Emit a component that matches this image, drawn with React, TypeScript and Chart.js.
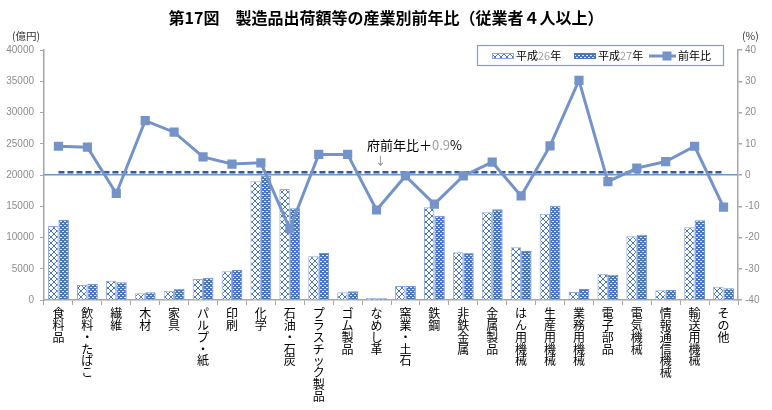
import React, { useEffect, useRef } from 'react';
import { Chart, registerables } from 'chart.js';
Chart.register(...registerables);

const categories = ['食料品', '飲料・たばこ', '繊維', '木材', '家具', 'パルプ・紙', '印刷', '化学', '石油・石炭', 'プラスチック製品', 'ゴム製品', 'なめし革', '窯業・土石', '鉄鋼', '非鉄金属', '金属製品', 'はん用機械', '生産用機械', '業務用機械', '電子部品', '電気機械', '情報通信機械', '輸送用機械', 'その他'];
const h26 = [11840, 2400, 3090, 1070, 1490, 3360, 4590, 18990, 17760, 6990, 1230, 320, 2240, 14830, 7630, 14030, 8430, 13810, 1280, 4210, 10190, 1550, 11630, 2130];
const h27 = [12800, 2610, 2830, 1230, 1810, 3570, 4800, 19900, 14670, 7520, 1390, 270, 2240, 13490, 7550, 14510, 7840, 15090, 1760, 4050, 10450, 1600, 12750, 1870];
const yoy = [9.2, 8.9, -5.9, 17.4, 13.7, 5.8, 3.5, 3.9, -17.2, 6.6, 6.6, -11.2, -0.3, -9.3, -0.3, 4.1, -6.7, 9.3, 30.3, -2.1, 2.2, 4.3, 9.2, -10.3];
const prefAvg = 0.9;
const leftMin = 0;
const leftMax = 40000;
const leftStep = 5000;
const rightMin = -40;
const rightMax = 40;
const rightStep = 10;

const seriesNames = ['平成26年', '平成27年', '前年比'];
const titleText = '第17図　製造品出荷額等の産業別前年比（従業者４人以上）';

const LINE = '#7393C9';
const DASH = '#2F5C9F';
const BLUE = '#4A76BB';
const AXIS = '#A6A6A6';
const JP = '"Noto Sans CJK JP", "Noto Sans", sans-serif';

function hatchPattern(): CanvasPattern | string {
  const c = document.createElement('canvas');
  c.width = 6; c.height = 6;
  const g = c.getContext('2d');
  if (!g) return '#fff';
  g.fillStyle = '#ffffff';
  g.fillRect(0, 0, 6, 6);
  g.strokeStyle = BLUE;
  g.lineWidth = 1;
  g.beginPath();
  g.moveTo(0, 0); g.lineTo(6, 6);
  g.moveTo(6, 0); g.lineTo(0, 6);
  g.stroke();
  return g.createPattern(c, 'repeat') || '#fff';
}

function dotPattern(): CanvasPattern | string {
  const c = document.createElement('canvas');
  c.width = 4; c.height = 4;
  const g = c.getContext('2d');
  if (!g) return BLUE;
  g.fillStyle = BLUE;
  g.fillRect(0, 0, 4, 4);
  g.fillStyle = '#E4ECF7';
  g.fillRect(0, 1, 2, 1);
  g.fillRect(2, 3, 2, 1);
  return g.createPattern(c, 'repeat') || BLUE;
}

export default function App() {
  const ref = useRef<HTMLCanvasElement | null>(null);

  useEffect(() => {
    const canvas = ref.current;
    if (!canvas) return;
    const hatch = hatchPattern();
    const dots = dotPattern();

    const legendPlugin = {
      id: 'customLegend',
      afterDraw(chart: any) {
        const ctx = chart.ctx as CanvasRenderingContext2D;
        ctx.save();
        ctx.strokeStyle = '#7F9FD0';
        ctx.lineWidth = 1.2;
        ctx.fillStyle = '#ffffff';
        ctx.fillRect(477.5, 45.5, 246, 20);
        ctx.strokeRect(477.5, 45.5, 246, 20);
        const cy = 56;
        ctx.font = `11px ${JP}`;
        ctx.textBaseline = 'middle';
        ctx.textAlign = 'left';
        const drawLabel = (x: number, text: string) => {
          let cx = x;
          for (const ch of text) {
            ctx.fillStyle = /[0-9]/.test(ch) ? '#A0A0A0' : '#000000';
            ctx.fillText(ch, cx, cy);
            cx += ctx.measureText(ch).width;
          }
        };
        ctx.fillStyle = hatch as any;
        ctx.fillRect(492, 53, 22, 6);
        ctx.strokeStyle = '#8EA9D8';
        ctx.lineWidth = 1;
        ctx.strokeRect(492.5, 53.5, 21, 5);
        drawLabel(516, seriesNames[0]);
        ctx.fillStyle = dots as any;
        ctx.fillRect(574, 53, 22, 6);
        ctx.strokeStyle = BLUE;
        ctx.strokeRect(574.5, 53.5, 21, 5);
        drawLabel(598, seriesNames[1]);
        ctx.strokeStyle = LINE;
        ctx.lineWidth = 3;
        ctx.beginPath();
        ctx.moveTo(649, cy);
        ctx.lineTo(676, cy);
        ctx.stroke();
        ctx.fillStyle = LINE;
        ctx.fillRect(662.5, cy - 4.5, 9, 9);
        drawLabel(678, seriesNames[2]);
        ctx.restore();
      },
    };

    const chart = new Chart(canvas, {
      type: 'bar',
      data: {
        labels: categories,
        datasets: [
          {
            type: 'line',
            label: seriesNames[2],
            data: yoy,
            yAxisID: 'y2',
            borderColor: LINE,
            backgroundColor: LINE,
            borderWidth: 3,
            pointStyle: 'rect',
            pointRadius: 6.5,
            pointBorderWidth: 0,
            pointBackgroundColor: LINE,
            tension: 0,
            order: 0,
          } as any,
          {
            type: 'line',
            label: '府前年比',
            data: categories.map(() => prefAvg),
            yAxisID: 'y2',
            borderColor: DASH,
            borderWidth: 2.5,
            borderDash: [6, 3],
            pointRadius: 0,
            order: 1,
          } as any,
          {
            type: 'bar',
            label: seriesNames[0],
            data: h26,
            yAxisID: 'y',
            backgroundColor: hatch as any,
            borderColor: '#8EA9D8',
            borderWidth: 1,
            categoryPercentage: 0.72,
            barPercentage: 1,
            order: 2,
          },
          {
            type: 'bar',
            label: seriesNames[1],
            data: h27,
            yAxisID: 'y',
            backgroundColor: dots as any,
            borderColor: '#6E92CC',
            borderWidth: 1,
            categoryPercentage: 0.72,
            barPercentage: 1,
            order: 2,
          },
        ],
      },
      options: {
        animation: false,
        responsive: false,
        maintainAspectRatio: false,
        layout: { padding: { top: 50, left: 0, right: 0, bottom: 0 } },
        plugins: {
          legend: { display: false },
          tooltip: { enabled: false },
          title: { display: false },
        },
        scales: {
          x: {
            grid: { display: true, drawOnChartArea: false, drawTicks: true, tickLength: 5, tickColor: AXIS, offset: true },
            border: { color: AXIS, width: 1.5 },
            ticks: {
              maxRotation: 0,
              minRotation: 0,
              autoSkip: false,
              padding: 3,
              color: '#000',
              font: { family: JP, size: 12, lineHeight: 0.98 },
              callback: (_v: any, i: number) => categories[i].split(''),
            },
            afterFit: (s: any) => { s.height = 110; },
          },
          y: {
            position: 'left',
            min: leftMin,
            max: leftMax,
            ticks: { stepSize: leftStep, color: '#8C8C8C', padding: 6, font: { family: '"Liberation Sans", Arial, sans-serif', size: 10 }, callback: (v: any) => String(v) },
            grid: { drawOnChartArea: false, tickLength: 4, tickColor: AXIS },
            border: { color: AXIS, width: 1.5 },
            afterFit: (s: any) => { s.width = 44; },
          },
          y2: {
            position: 'right',
            min: rightMin,
            max: rightMax,
            ticks: { stepSize: rightStep, color: '#8C8C8C', padding: 3, font: { family: '"Liberation Sans", Arial, sans-serif', size: 10 }, callback: (v: any) => String(v) },
            grid: {
              drawOnChartArea: true,
              tickLength: 4,
              tickColor: AXIS,
              lineWidth: 1.5,
              color: (c: any) => (c.tick && c.tick.value === 0 ? LINE : 'rgba(0,0,0,0)'),
            },
            border: { color: AXIS, width: 1.5 },
            afterFit: (s: any) => { s.width = 34; },
          },
        },
      },
      plugins: [legendPlugin],
    });
    return () => chart.destroy();
  }, []);

  return (
    <div style={{ position: 'fixed', left: 0, top: 0, width: 772, height: 410, background: '#fff', overflow: 'hidden' }}>
      <canvas ref={ref} width={772} height={410} style={{ position: 'absolute', left: 0, top: 0, width: 772, height: 410 }} />
      <div style={{ position: 'absolute', left: 0, top: 7, width: 772, textAlign: 'center', fontFamily: JP, fontWeight: 700, fontSize: 16, lineHeight: '20px', color: '#000', whiteSpace: 'nowrap' }}>
        {titleText}
      </div>
      <div style={{ position: 'absolute', left: 12, top: 29, fontFamily: JP, fontSize: 10.5, lineHeight: '14px', color: '#333' }}>(億円)</div>
      <div style={{ position: 'absolute', left: 742, top: 29, fontFamily: JP, fontSize: 10.5, lineHeight: '14px', color: '#333' }}>(%)</div>
      <div style={{ position: 'absolute', left: 367, top: 137, fontFamily: JP, fontSize: 13, lineHeight: '16px', color: '#000', whiteSpace: 'nowrap' }}>
        府前年比＋<span style={{ color: '#A0A0A0' }}>0.9</span>%
      </div>
      <div style={{ position: 'absolute', left: 375, top: 153, fontFamily: JP, fontSize: 11, lineHeight: '14px', color: '#808080' }}>↓</div>
    </div>
  );
}
